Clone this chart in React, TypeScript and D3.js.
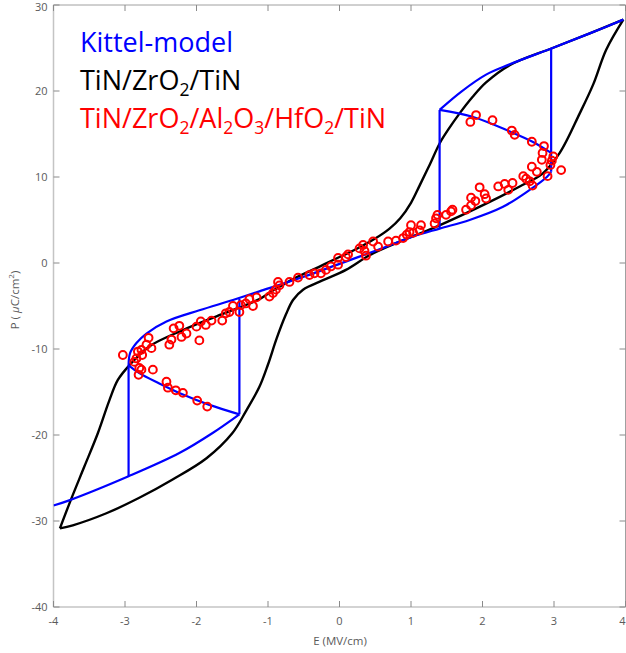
import React from "react";
import * as d3 from "d3";

const W = 626;
const H = 653;

const xTicks = [-4, -3, -2, -1, 0, 1, 2, 3, 4];
const yTicks = [-40, -30, -20, -10, 0, 10, 20, 30];

// Black: TiN/ZrO2/TiN (descending then ascending branch)
const blackDesc: [number, number][] = [
  [3.97, 28.3], [3.5, 26.7], [2.98, 25.0], [2.38, 23.0], [2.05, 21.0], [1.86, 19.3],
  [1.68, 17.4], [1.52, 15.5], [1.4, 13.9], [1.26, 11.4], [1.12, 9.0], [1.0, 7.0],
  [0.85, 5.2], [0.7, 4.0], [0.51, 2.9], [0.23, 1.6], [0.0, 0.7], [-0.3, -0.5],
  [-0.61, -1.7], [-0.93, -3.2], [-1.12, -4.2], [-1.72, -6.2], [-2.19, -7.8],
  [-2.66, -9.7], [-2.94, -11.9], [-3.1, -13.6], [-3.22, -16.0], [-3.38, -19.8],
  [-3.57, -23.7], [-3.76, -27.6], [-3.91, -30.85],
];
const blackAsc: [number, number][] = [
  [-3.91, -30.85], [-3.73, -30.5], [-3.26, -29.1], [-2.8, -27.3], [-2.34, -25.2],
  [-1.86, -22.7], [-1.5, -19.8], [-1.3, -17.1], [-1.12, -14.4], [-1.0, -11.8],
  [-0.88, -8.8], [-0.75, -6.0], [-0.65, -4.3], [-0.51, -3.1], [-0.23, -2.0],
  [0.09, -0.8], [0.42, 0.9], [0.79, 2.3], [1.35, 4.2], [2.05, 6.9], [2.52, 8.9],
  [2.84, 10.4], [3.08, 12.8], [3.36, 17.4], [3.55, 20.8], [3.73, 24.8], [3.97, 28.3],
];

// Blue: Kittel model segments
const kittelFEPos: [number, number][] = [
  [1.4, 17.8], [1.7, 19.9], [2.05, 21.9], [2.38, 23.1], [2.98, 25.0], [3.5, 26.7], [3.97, 28.3],
];
const kittelFENeg: [number, number][] = [
  [-1.4, -17.6], [-1.78, -19.8], [-2.24, -22.1], [-2.95, -24.8], [-3.78, -27.6], [-4.0, -28.2],
];
const kittelMidPos: [number, number][] = [
  [1.4, 17.8], [1.86, 17.0], [2.38, 15.3], [2.7, 14.1], [2.96, 12.8],
];
const kittelMidNeg: [number, number][] = [
  [-1.4, -17.6], [-1.82, -16.5], [-2.19, -15.3], [-2.52, -14.0], [-2.8, -12.8], [-2.95, -11.9],
];
const kittelAFE: [number, number][] = [
  [-2.95, -11.9], [-2.93, -10.5], [-2.84, -9.3], [-2.7, -8.2], [-2.42, -6.8], [-1.96, -5.5],
  [-1.49, -4.3], [-1.12, -3.3], [-0.5, -1.6], [0.0, -0.1], [0.56, 1.6], [1.0, 3.0],
  [1.4, 4.0], [1.82, 5.0], [2.28, 6.5], [2.66, 8.5], [2.9, 10.0], [2.96, 10.6],
];
const kittelVert: [number, number, number][] = [
  [1.4, 4.0, 17.8], [2.96, 10.6, 25.0], [-1.4, -4.2, -17.6], [-2.95, -11.9, -24.8],
];

// Red: TiN/ZrO2/Al2O3/HfO2/TiN measured points
const redUpper: [number, number][] = [
  [1.91, 17.2], [1.83, 16.4], [2.14, 16.6], [2.41, 15.4], [2.45, 14.9], [2.69, 14.1],
  [2.86, 13.6], [2.84, 12.8], [2.99, 12.4], [2.97, 11.9], [2.83, 12.0], [2.95, 11.4],
  [2.69, 11.2], [2.76, 10.6], [3.1, 10.8], [2.91, 10.1], [2.57, 10.1], [2.61, 9.8],
  [2.66, 9.5], [2.7, 9.0], [2.42, 9.3], [2.31, 9.2], [2.22, 8.9], [2.36, 8.5],
  [1.96, 8.8], [2.03, 8.0], [2.05, 7.5], [1.84, 6.7], [1.84, 7.6], [1.9, 7.2],
  [1.77, 6.2], [1.58, 6.2], [1.56, 6.0], [1.49, 5.6], [1.37, 5.6], [1.35, 5.2],
  [1.33, 4.6], [1.14, 4.4], [1.12, 3.8], [1.0, 4.4], [1.03, 3.5], [0.98, 3.6],
  [0.94, 3.3], [0.89, 2.9], [0.79, 2.6], [0.68, 2.5], [0.47, 2.5],
];
const redMiddle: [number, number][] = [
  [0.54, 1.9], [0.37, 0.85], [0.35, 1.4], [0.33, 2.1], [0.28, 1.7], [0.12, 1.0],
  [0.09, 0.7], [-0.02, 0.6], [-0.02, -0.2], [-0.12, -0.4], [-0.19, -0.8], [-0.26, -1.2],
  [-0.35, -1.2], [-0.42, -1.4], [-0.58, -1.7], [-0.7, -2.2], [-0.86, -2.2], [-0.84, -2.6],
  [-0.89, -3.1], [-0.93, -3.5], [-0.98, -3.9], [-1.16, -4.0], [-1.26, -4.2],
];
const redLower: [number, number][] = [
  [-1.21, -5.0], [-1.31, -4.7], [-1.38, -4.9], [-1.4, -5.7], [-1.49, -5.0], [-1.54, -5.7],
  [-1.59, -5.85], [-1.64, -6.7], [-1.79, -6.7], [-1.87, -7.2], [-1.94, -6.8], [-1.96, -9.0],
  [-2.0, -7.4], [-2.14, -8.2], [-2.21, -8.6], [-2.24, -7.3], [-2.32, -7.6], [-2.35, -8.9],
  [-2.38, -9.5], [-2.67, -8.7], [-2.7, -9.5], [-2.77, -10.1], [-2.76, -10.7], [-2.82, -10.3],
  [-2.84, -11.1], [-2.87, -11.5], [-3.03, -10.7], [-2.8, -12.2], [-2.77, -12.4], [-2.81, -13.0],
  [-2.63, -9.9], [-2.61, -12.4], [-2.42, -13.8], [-2.4, -14.5], [-2.29, -14.8], [-2.19, -15.1],
  [-1.99, -16.0], [-1.85, -16.7],
];

const legendColors = ["#0000ff", "#000000", "#ff0000"];

export default function App() {
  const x = d3.scaleLinear().domain([-4, 4]).range([53.5, 625.5]);
  const y = d3.scaleLinear().domain([-40, 30]).range([607, 5]);
  const line = d3
    .line<[number, number]>()
    .x((d) => x(d[0]))
    .y((d) => y(d[1]))
    .curve(d3.curveCatmullRom.alpha(0.5));
  const straight = d3
    .line<[number, number]>()
    .x((d) => x(d[0]))
    .y((d) => y(d[1]));

  const x0 = x(-4), x1 = x(4), y0 = y(-40), y1 = y(30);
  const axisColor = "#c4c4c4";
  const tickColor = "#8a8a8a";
  const labelColor = "#5a5a5a";
  const font = "'Open Sans', 'Noto Sans', sans-serif";
  const allRed = [...redUpper, ...redMiddle, ...redLower];
  const legSize = 27;
  const subSize = 17.5;
  const subDy = 6;

  return (
    <svg
      width={W}
      height={H}
      style={{ position: "absolute", left: 0, top: 0, background: "#fff" }}
      fontFamily={font}
    >
      <defs>
        <clipPath id="plotclip">
          <rect x={x0} y={y1} width={x1 - x0} height={y0 - y1} />
        </clipPath>
      </defs>
      <rect width={W} height={H} fill="#fff" />
      {/* box */}
      <line x1={x0} x2={x1} y1={y1} y2={y1} stroke="#a0a0a0" strokeWidth={1} />
      <line x1={x1} x2={x1} y1={y1} y2={y0} stroke="#a0a0a0" strokeWidth={1} />
      <line x1={x0} x2={x1} y1={y0} y2={y0} stroke={axisColor} strokeWidth={1.5} />
      <line x1={x0} x2={x0} y1={y1} y2={y0} stroke={axisColor} strokeWidth={1.5} />
      {xTicks.map((t, i) => (
        <g key={"xt" + t}>
          <line x1={x(t)} x2={x(t)} y1={y0} y2={y0 - 6} stroke={tickColor} strokeWidth={1} />
          <line x1={x(t)} x2={x(t)} y1={y1} y2={y1 + 6} stroke={tickColor} strokeWidth={1} />
          <text
            x={i === xTicks.length - 1 ? x(t) - 3 : x(t)}
            y={625}
            fontSize={11}
            fill={labelColor}
            textAnchor="middle"
          >
            {t}
          </text>
        </g>
      ))}
      {yTicks.map((t) => (
        <g key={"yt" + t}>
          <line x1={x0} x2={x0 + 6} y1={y(t)} y2={y(t)} stroke={tickColor} strokeWidth={1} />
          <line x1={x1} x2={x1 - 6} y1={y(t)} y2={y(t)} stroke={tickColor} strokeWidth={1} />
          <text
            x={x0 - 6}
            y={Math.max(y(t) + 4, 11)}
            fontSize={11}
            fill={labelColor}
            textAnchor="end"
          >
            {t}
          </text>
        </g>
      ))}
      <text x={340} y={645} fontSize={11.5} fill={labelColor} textAnchor="middle">
        E  (MV/cm)
      </text>
      <text
        transform="translate(19,300) rotate(-90)"
        fontSize={11.5}
        fill={labelColor}
        textAnchor="middle"
      >
        P ( <tspan fontStyle="italic">μ</tspan>C/cm
        <tspan dy={-5} fontSize={8}>2</tspan>
        <tspan dy={5}>)</tspan>
      </text>

      <g clipPath="url(#plotclip)" fill="none">
        {/* black loop */}
        <path d={line(blackDesc) || ""} stroke="#000" strokeWidth={2.4} />
        <path d={line(blackAsc) || ""} stroke="#000" strokeWidth={2.4} />
        {/* Kittel model */}
        <path d={line(kittelFEPos) || ""} stroke="#0000ff" strokeWidth={2.2} />
        <path d={line(kittelFENeg) || ""} stroke="#0000ff" strokeWidth={2.2} />
        <path d={line(kittelMidPos) || ""} stroke="#0000ff" strokeWidth={2.2} />
        <path d={line(kittelMidNeg) || ""} stroke="#0000ff" strokeWidth={2.2} />
        <path d={line(kittelAFE) || ""} stroke="#0000ff" strokeWidth={2.2} />
        {kittelVert.map((v, i) => (
          <path
            key={"kv" + i}
            d={straight([[v[0], v[1]], [v[0], v[2]]]) || ""}
            stroke="#0000ff"
            strokeWidth={2.2}
          />
        ))}
        {/* measured points */}
        {allRed.map((p, i) => (
          <circle
            key={"r" + i}
            cx={x(p[0])}
            cy={y(p[1])}
            r={3.9}
            stroke="#ff0000"
            strokeWidth={2}
            fill="none"
          />
        ))}
      </g>

      {/* legend */}
      <text x={80} y={52} fontSize={legSize} fill={legendColors[0]}>
        Kittel-model
      </text>
      <text x={80} y={90} fontSize={legSize} fill={legendColors[1]}>
        TiN/ZrO<tspan fontSize={subSize} dy={subDy}>2</tspan>
        <tspan dy={-subDy}>/TiN</tspan>
      </text>
      <text x={80} y={128} fontSize={legSize} fill={legendColors[2]}>
        TiN/ZrO<tspan fontSize={subSize} dy={subDy}>2</tspan>
        <tspan dy={-subDy}>/Al</tspan>
        <tspan fontSize={subSize} dy={subDy}>2</tspan>
        <tspan dy={-subDy}>O</tspan>
        <tspan fontSize={subSize} dy={subDy}>3</tspan>
        <tspan dy={-subDy}>/HfO</tspan>
        <tspan fontSize={subSize} dy={subDy}>2</tspan>
        <tspan dy={-subDy}>/TiN</tspan>
      </text>
    </svg>
  );
}
